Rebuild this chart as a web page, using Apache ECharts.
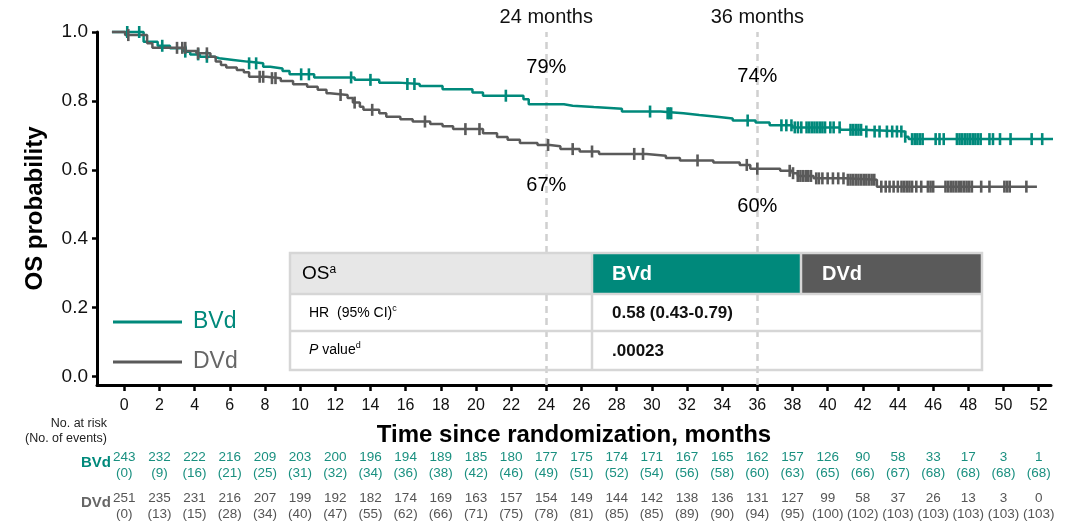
<!DOCTYPE html>
<html>
<head>
<meta charset="utf-8">
<script src="https://cdn.jsdelivr.net/npm/echarts@6/dist/echarts.min.js"></script>
<style>
  html, body { margin: 0; padding: 0; background: #fff; }
  #chart { width: 1076px; height: 525px; }
</style>
</head>
<body>
<div id="chart"></div>
<script>
const FONT = '"Liberation Sans", Arial, Helvetica, sans-serif';
const TEAL = '#00897b';
const GREY = '#5a5a5a';

// Axis ticks
const monthTicks = [0, 2, 4, 6, 8, 10, 12, 14, 16, 18, 20, 22, 24, 26, 28, 30, 32, 34, 36, 38, 40, 42, 44, 46, 48, 50, 52];
const probTicks = [0, 0.2, 0.4, 0.6, 0.8, 1.0];
const landmarkMonths = [24, 36];

// Kaplan-Meier steps: [month, survival after the step]
const bvdSteps = [
  [-0.7, 1.0], [1.1, 0.972], [1.9, 0.96], [2.6, 0.953], [3.4, 0.943], [3.75, 0.935], [4.3, 0.928],
  [5.1, 0.924], [5.4, 0.919], [6.2, 0.914], [7.0, 0.909], [7.9, 0.899], [8.3, 0.894], [9.0, 0.887],
  [9.4, 0.877], [10.8, 0.868], [13.1, 0.861], [14.5, 0.853], [15.6, 0.849], [16.8, 0.843], [18.1, 0.834],
  [19.8, 0.824], [20.4, 0.815], [22.7, 0.805], [23.0, 0.79], [25.0, 0.786], [25.5, 0.782], [26.7, 0.777],
  [28.3, 0.769], [30.5, 0.764], [31.8, 0.759], [32.7, 0.754], [33.7, 0.749], [34.6, 0.743], [35.9, 0.737],
  [36.7, 0.729], [38.0, 0.723], [40.7, 0.716], [42.0, 0.711], [44.4, 0.696], [44.6, 0.689], [52.9, 0.689]
];
const dvdSteps = [
  [-0.7, 1.0], [0.05, 0.991], [1.3, 0.967], [1.6, 0.954], [3.5, 0.945], [4.1, 0.938], [4.9, 0.928],
  [5.2, 0.914], [5.5, 0.904], [5.8, 0.897], [6.4, 0.89], [6.8, 0.883], [7.1, 0.87], [8.1, 0.866],
  [8.9, 0.858], [9.6, 0.848], [10.4, 0.841], [11.0, 0.832], [11.5, 0.822], [11.7, 0.817], [12.7, 0.808],
  [13.0, 0.795], [13.4, 0.783], [13.6, 0.774], [14.5, 0.764], [14.9, 0.754], [15.7, 0.747], [16.4, 0.74],
  [17.4, 0.733], [18.1, 0.726], [18.7, 0.718], [20.4, 0.706], [21.2, 0.695], [21.8, 0.687], [22.5, 0.678],
  [23.5, 0.672], [24.2, 0.668], [24.8, 0.66], [25.9, 0.653], [27.0, 0.646], [29.7, 0.641], [30.8, 0.634],
  [31.6, 0.627], [33.5, 0.621], [35.0, 0.614], [35.6, 0.603], [37.3, 0.597], [38.0, 0.59], [38.3, 0.582],
  [39.2, 0.575], [41.0, 0.571], [42.8, 0.551], [51.9, 0.551]
];

// Censored observations (months)
const bvdCensored = [
  0.17, 0.85, 2.16, 3.47, 4.2, 4.7, 7.1, 7.5, 10.06, 10.5, 12.9, 14.0, 16.1, 16.5, 21.7, 29.9,
  30.9, 31.0, 31.1, 35.45, 37.37, 37.65, 37.94, 38.13, 38.31, 38.5, 38.8, 38.95, 39.1, 39.25, 39.4,
  39.55, 39.7, 39.85, 40.15, 40.34, 40.68, 41.3, 41.45, 41.6, 41.75, 41.9, 42.2, 42.67, 42.95, 43.37,
  43.67, 43.94, 44.19, 44.41, 44.8, 44.95, 45.1, 45.25, 45.4, 46.14, 46.36, 46.6, 47.35, 47.5, 47.65,
  47.8, 47.95, 48.1, 48.25, 48.4, 48.55, 48.7, 49.2, 49.4, 49.8, 50.4, 51.6, 52.2
];
const dvdCensored = [
  0.23, 3.0, 3.3, 3.47, 4.2, 4.7, 7.7, 7.9, 8.4, 8.6, 12.3, 13.1, 14.1, 17.1, 19.4, 20.2, 24.1, 25.5,
  26.6, 29.0, 29.5, 32.6, 35.4, 36.0, 37.84, 38.03, 38.3, 38.45, 38.6, 38.75, 38.9, 39.05, 39.35, 39.5,
  39.7, 40.0, 40.3, 40.6, 40.9, 41.15, 41.3, 41.45, 41.6, 41.75, 41.9, 42.05, 42.2, 42.35, 42.5, 42.65,
  43.05, 43.3, 43.52, 43.75, 43.99, 44.2, 44.35, 44.5, 44.65, 44.8, 45.04, 45.32, 45.7, 45.85, 46.0,
  46.7, 46.85, 47.0, 47.15, 47.3, 47.45, 47.6, 47.75, 47.9, 48.05, 48.2, 48.73, 49.2, 50.05, 50.2,
  50.35, 51.3
];

// Numbers at risk (events) at each month tick
const bvdAtRisk = [243, 232, 222, 216, 209, 203, 200, 196, 194, 189, 185, 180, 177, 175, 174, 171, 167, 165, 162, 157, 126, 90, 58, 33, 17, 3, 1];
const bvdEvents = [0, 9, 16, 21, 25, 31, 32, 34, 36, 38, 42, 46, 49, 51, 52, 54, 56, 58, 60, 63, 65, 66, 67, 68, 68, 68, 68];
const dvdAtRisk = [251, 235, 231, 216, 207, 199, 192, 182, 174, 169, 163, 157, 154, 149, 144, 142, 138, 136, 131, 127, 99, 58, 37, 26, 13, 3, 0];
const dvdEvents = [0, 13, 15, 28, 34, 40, 47, 55, 62, 66, 71, 75, 78, 81, 85, 85, 89, 90, 94, 95, 100, 102, 103, 103, 103, 103, 103];

// Summary statistics
const armNames = ['BVd', 'DVd'];
const hrText = '0.58 (0.43-0.79)';
const pText = '.00023';

function survivalAt(steps, t) {
  let s = steps[0][1];
  for (const [time, val] of steps) {
    if (time <= t) s = val; else break;
  }
  return s;
}

const chart = echarts.init(document.getElementById('chart'), null, { renderer: 'canvas' });

const riskAxis = (counts, events, color, offset) => ({
  type: 'value', gridIndex: 0, position: 'bottom', min: -1.55, max: 52.7, offset: offset,
  axisLine: { show: false, onZero: false }, axisTick: { show: false }, splitLine: { show: false },
  axisLabel: {
    customValues: monthTicks, margin: 0, color: color, fontFamily: FONT, fontSize: 13.5, lineHeight: 16,
    formatter: v => { const i = monthTicks.indexOf(v); return counts[i] + '\n(' + events[i] + ')'; }
  }
});

const censorSeries = (name, times, steps, color) => ({
  name: name + ' censored', type: 'scatter', z: 4, silent: true,
  symbol: 'rect', symbolSize: [2.6, 12], itemStyle: { color: color, opacity: 1 },
  data: times.map(t => [t, survivalAt(steps, t)])
});

// Landmark estimate labels
const landmarkLabels = [];
landmarkMonths.forEach((m, k) => {
  const b = survivalAt(bvdSteps, m), d = survivalAt(dvdSteps, m);
  landmarkLabels.push({ value: [m, b], label: { offset: [0, k === 0 ? -37 : -46] } });
  landmarkLabels.push({ value: [m, d], label: { offset: [0, k === 0 ? 41 : 38] } });
});

// Summary table
const T = { x0: 290, x1: 982, y0: 253, y1: 294, y2: 331, y3: 370, c1: 592, c2: 801 };
const border = '#d6d6d6';
const TZ = 20;
const tableItems = [
  { type: 'rect', shape: { x: T.x0, y: T.y0, width: T.c1 - T.x0, height: T.y1 - T.y0 }, style: { fill: '#e7e7e7' } },
  { type: 'rect', shape: { x: T.c1, y: T.y0, width: T.c2 - T.c1, height: T.y1 - T.y0 }, style: { fill: TEAL } },
  { type: 'rect', shape: { x: T.c2, y: T.y0, width: T.x1 - T.c2, height: T.y1 - T.y0 }, style: { fill: GREY } },
  { type: 'rect', shape: { x: T.x0, y: T.y0, width: T.x1 - T.x0, height: T.y3 - T.y0 }, style: { fill: null, stroke: border, lineWidth: 2.5 } },
  { type: 'line', shape: { x1: T.x0, y1: T.y1, x2: T.x1, y2: T.y1 }, style: { stroke: border, lineWidth: 2.5 } },
  { type: 'line', shape: { x1: T.x0, y1: T.y2, x2: T.x1, y2: T.y2 }, style: { stroke: border, lineWidth: 2.5 } },
  { type: 'line', shape: { x1: T.c1, y1: T.y0, x2: T.c1, y2: T.y3 }, style: { stroke: border, lineWidth: 2.5 } },
  { type: 'line', shape: { x1: T.c2, y1: T.y0, x2: T.c2, y2: T.y1 }, style: { stroke: border, lineWidth: 2.5 } },
  { type: 'text', style: { x: 302, y: 274, verticalAlign: 'middle', text: '{m|OS}{s|a}',
      rich: { m: { fontFamily: FONT, fontSize: 19, color: '#111' }, s: { fontFamily: FONT, fontSize: 12, color: '#111', padding: [0, 0, 9, 0] } } } },
  { type: 'text', style: { x: 309, y: 313, verticalAlign: 'middle', text: '{m|HR  (95% CI)}{s|c}',
      rich: { m: { fontFamily: FONT, fontSize: 14, color: '#111' }, s: { fontFamily: FONT, fontSize: 9, color: '#111', padding: [0, 0, 8, 0] } } } },
  { type: 'text', style: { x: 309, y: 350, verticalAlign: 'middle', text: '{i|P}{m| value}{s|d}',
      rich: { i: { fontFamily: FONT, fontSize: 14, fontStyle: 'italic', color: '#111' }, m: { fontFamily: FONT, fontSize: 14, color: '#111' },
              s: { fontFamily: FONT, fontSize: 9, color: '#111', padding: [0, 0, 8, 0] } } } },
  { type: 'text', style: { x: 612, y: 274, verticalAlign: 'middle', text: armNames[0], fontFamily: FONT, fontSize: 20, fontWeight: 'bold', fill: '#fff' } },
  { type: 'text', style: { x: 822, y: 274, verticalAlign: 'middle', text: armNames[1], fontFamily: FONT, fontSize: 20, fontWeight: 'bold', fill: '#fff' } },
  { type: 'text', style: { x: 612, y: 313, verticalAlign: 'middle', text: hrText, fontFamily: FONT, fontSize: 17, fontWeight: 'bold', fill: '#111' } },
  { type: 'text', style: { x: 612, y: 351, verticalAlign: 'middle', text: pText, fontFamily: FONT, fontSize: 17, fontWeight: 'bold', fill: '#111' } }
].map(el => Object.assign({ z: TZ }, el));

const option = {
  backgroundColor: '#fff',
  animation: false,
  textStyle: { fontFamily: FONT },
  grid: { left: 97, right: 25, top: 32, bottom: 140, containLabel: false },
  legend: {
    orient: 'vertical', left: 113, top: 309, padding: 0, itemGap: 14,
    itemWidth: 69, itemHeight: 3, icon: 'rect', selectedMode: false,
    textStyle: { fontFamily: FONT, fontSize: 23, lineHeight: 26, padding: [0, 0, 0, 6] },
    data: [
      { name: 'BVd', textStyle: { color: TEAL } },
      { name: 'DVd', textStyle: { color: '#666' } }
    ]
  },
  xAxis: [
    {
      type: 'value', min: -1.55, max: 52.7,
      axisLine: { onZero: false, lineStyle: { color: '#000', width: 3 } },
      axisTick: { customValues: monthTicks, length: 6, lineStyle: { color: '#000', width: 2.5 } },
      axisLabel: { customValues: monthTicks, margin: 13, color: '#111', fontFamily: FONT, fontSize: 16 },
      splitLine: { show: false },
      name: 'Time since randomization, months', nameLocation: 'middle', nameGap: 38,
      nameTextStyle: { fontFamily: FONT, fontSize: 24, fontWeight: 'bold', color: '#000' }
    },
    riskAxis(bvdAtRisk, bvdEvents, '#1a9080', 64),
    riskAxis(dvdAtRisk, dvdEvents, '#555', 105)
  ],
  yAxis: {
    type: 'value', min: -0.025, max: 1.0,
    axisLine: { show: true, onZero: false, lineStyle: { color: '#000', width: 3 } },
    axisTick: { show: true, customValues: probTicks, length: 5, lineStyle: { color: '#000', width: 2.5 } },
    axisLabel: { customValues: probTicks, margin: 9, color: '#111', fontFamily: FONT, fontSize: 19, formatter: v => v.toFixed(1) },
    splitLine: { show: false },
    name: 'OS probability', nameLocation: 'middle', nameGap: 50,
    nameTextStyle: { fontFamily: FONT, fontSize: 24, fontWeight: 'bold', color: '#000' }
  },
  graphic: [
    ...tableItems,
    { type: 'text', style: { x: 107, y: 424, align: 'right', verticalAlign: 'middle', text: 'No. at risk', fontFamily: FONT, fontSize: 12.5, fill: '#222' } },
    { type: 'text', style: { x: 107, y: 439, align: 'right', verticalAlign: 'middle', text: '(No. of events)', fontFamily: FONT, fontSize: 12.5, fill: '#222' } },
    { type: 'text', style: { x: 111, y: 463, align: 'right', verticalAlign: 'middle', text: armNames[0], fontFamily: FONT, fontSize: 15, fontWeight: 'bold', fill: TEAL } },
    { type: 'text', style: { x: 111, y: 503, align: 'right', verticalAlign: 'middle', text: armNames[1], fontFamily: FONT, fontSize: 15, fontWeight: 'bold', fill: '#666' } }
  ],
  series: [
    {
      name: 'BVd', type: 'line', step: 'end', showSymbol: false, clip: false, z: 3,
      lineStyle: { color: TEAL, width: 2.5 }, itemStyle: { color: TEAL },
      data: bvdSteps,
      markLine: {
        silent: true, symbol: 'none', z: 1,
        lineStyle: { color: '#d0d0d0', type: [7, 5], width: 2.5 },
        label: { show: true, position: 'end', distance: 5, formatter: p => p.value + ' months', fontFamily: FONT, fontSize: 20, color: '#111' },
        data: landmarkMonths.map(m => ({ xAxis: m }))
      }
    },
    {
      name: 'DVd', type: 'line', step: 'end', showSymbol: false, clip: false, z: 3,
      lineStyle: { color: GREY, width: 2.5 }, itemStyle: { color: GREY },
      data: dvdSteps
    },
    censorSeries('BVd', bvdCensored, bvdSteps, TEAL),
    censorSeries('DVd', dvdCensored, dvdSteps, GREY),
    {
      name: 'landmarks', type: 'scatter', silent: true, symbolSize: 1, itemStyle: { color: 'transparent', opacity: 1 },
      label: { show: true, position: 'inside', fontFamily: FONT, fontSize: 20, color: '#000', opacity: 1,
               formatter: p => Math.round(p.value[1] * 100) + '%' },
      data: landmarkLabels
    }
  ]
};

chart.setOption(option);
</script>
</body>
</html>
